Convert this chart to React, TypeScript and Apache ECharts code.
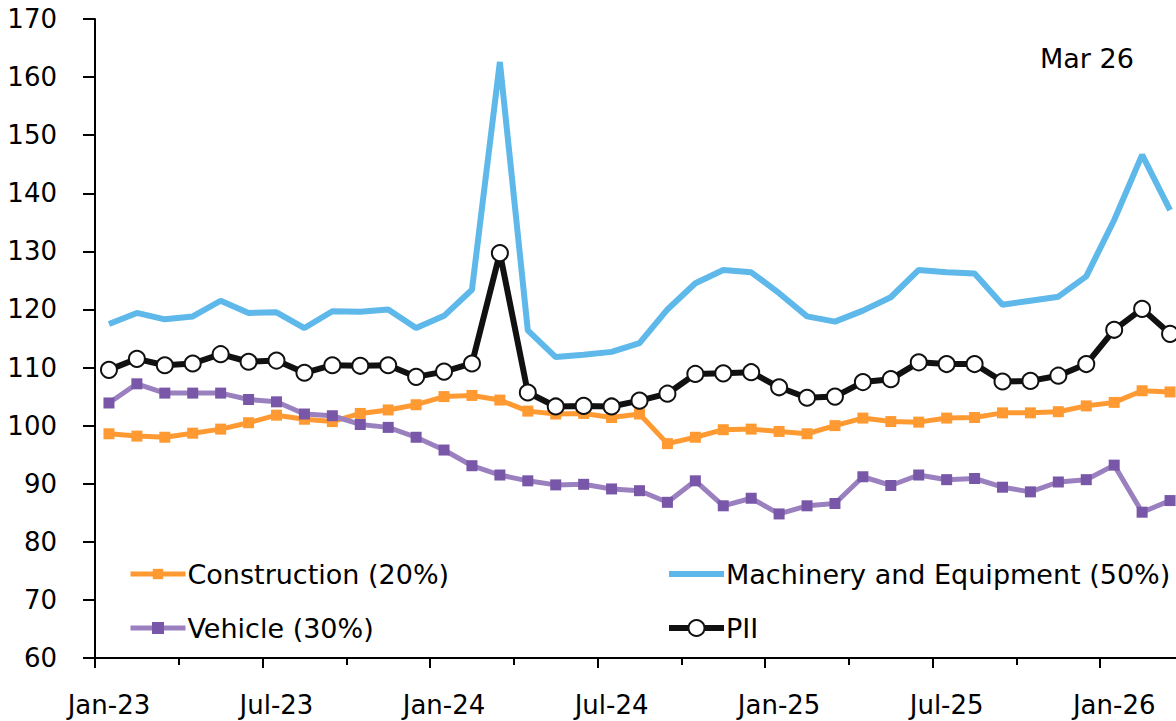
import React, { useEffect, useRef } from "react";
import * as echarts from "echarts";

const months = [
  "Jan-23","Feb-23","Mar-23","Apr-23","May-23","Jun-23","Jul-23","Aug-23","Sep-23","Oct-23","Nov-23","Dec-23",
  "Jan-24","Feb-24","Mar-24","Apr-24","May-24","Jun-24","Jul-24","Aug-24","Sep-24","Oct-24","Nov-24","Dec-24",
  "Jan-25","Feb-25","Mar-25","Apr-25","May-25","Jun-25","Jul-25","Aug-25","Sep-25","Oct-25","Nov-25","Dec-25",
  "Jan-26","Feb-26","Mar-26",
];

const construction = [
  98.6, 98.2, 98.0, 98.7, 99.4, 100.5, 101.8, 101.1, 100.7, 102.1, 102.7, 103.6,
  105.0, 105.2, 104.4, 102.5, 102.0, 102.1, 101.4, 102.0, 96.9, 98.0, 99.3, 99.4,
  99.0, 98.6, 100.0, 101.3, 100.7, 100.6, 101.3, 101.4, 102.2, 102.2, 102.4, 103.4,
  104.0, 106.0, 105.8,
];

const machinery = [
  117.5, 119.4, 118.3, 118.8, 121.5, 119.4, 119.5, 116.8, 119.7, 119.6, 120.0, 116.8,
  118.9, 123.4, 162.6, 116.4, 111.8, 112.2, 112.7, 114.2, 120.0, 124.5, 126.8, 126.4,
  122.8, 118.8, 117.9, 119.8, 122.1, 126.8, 126.4, 126.2, 120.8, 121.5, 122.2, 125.7,
  135.4, 146.6, 137.1,
];

const vehicle = [
  103.9, 107.2, 105.6, 105.6, 105.6, 104.5, 104.1, 102.0, 101.7, 100.2, 99.7, 98.0,
  95.8, 93.1, 91.5, 90.5, 89.8, 89.9, 89.1, 88.8, 86.8, 90.5, 86.2, 87.5,
  84.8, 86.2, 86.6, 91.2, 89.7, 91.5, 90.7, 90.9, 89.4, 88.6, 90.3, 90.7,
  93.2, 85.1, 87.1,
];

const pii = [
  109.6, 111.5, 110.4, 110.7, 112.3, 111.0, 111.2, 109.1, 110.4, 110.3, 110.4, 108.4,
  109.3, 110.7, 129.7, 105.7, 103.3, 103.4, 103.3, 104.3, 105.5, 108.9, 109.0, 109.2,
  106.6, 104.8, 105.0, 107.5, 108.0, 110.9, 110.6, 110.6, 107.6, 107.7, 108.6, 110.6,
  116.5, 120.1, 115.8,
];

const seriesNames = ["Construction (20%)", "Machinery and Equipment (50%)", "Vehicle (30%)", "PII"];
const dateNote = "Mar 26";

const FONT = "DejaVu Sans";

export default function App() {
  const ref = useRef<HTMLDivElement>(null);

  useEffect(() => {
    if (!ref.current) return;
    const chart = echarts.init(ref.current, undefined, { renderer: "svg" });

    const mkLegend = (
      name: string,
      left: number,
      centerY: number,
      itemHeight: number,
      lineWidth: number,
      hideSymbol = false
    ) => ({
      show: true,
      data: [name],
      left,
      top: centerY - 16,
      height: 32,
      orient: "horizontal",
      itemWidth: 55,
      itemHeight,
      itemGap: 0,
      padding: 0,
      lineStyle: { width: lineWidth },
      itemStyle: hideSymbol ? { opacity: 0 } : {},
      textStyle: { fontFamily: FONT, fontSize: 27, color: "#000", padding: [0, 0, 0, -3], lineHeight: 32 },
      selectedMode: false,
    });

    chart.setOption({
      animation: false,
      backgroundColor: "#fff",
      grid: { left: 95, right: 6, top: 19, bottom: 63, containLabel: false },
      legend: [
        mkLegend(seriesNames[0], 128, 574, 13, 5),
        mkLegend(seriesNames[1], 666, 574, 13, 6, true),
        mkLegend(seriesNames[2], 128, 628, 15, 5),
        mkLegend(seriesNames[3], 666, 628, 20, 6),
      ],
      graphic: [
        {
          type: "text",
          left: 1040,
          top: 45,
          style: { text: dateNote, font: `27px "${FONT}"`, fill: "#000" },
        },
      ],
      xAxis: [
        {
          type: "category",
          data: months,
          boundaryGap: true,
          axisLine: { show: true, lineStyle: { color: "#000", width: 2 } },
          axisTick: { show: true, interval: 5, length: 10, lineStyle: { color: "#000", width: 2 } },
          axisLabel: {
            interval: 5,
            margin: 34,
            fontFamily: FONT,
            fontSize: 26,
            color: "#000",
          },
          splitLine: { show: false },
        },
        {
          type: "category",
          data: months,
          boundaryGap: true,
          position: "bottom",
          axisLine: { show: false },
          axisTick: { show: true, interval: 2, length: 7, lineStyle: { color: "#000", width: 2 } },
          axisLabel: { show: false },
          splitLine: { show: false },
        },
      ],
      yAxis: {
        type: "value",
        min: 60,
        max: 170,
        interval: 10,
        axisLine: { show: true, lineStyle: { color: "#000", width: 2 } },
        axisTick: { show: true, length: 12, lineStyle: { color: "#000", width: 2 } },
        axisLabel: { margin: 38, fontFamily: FONT, fontSize: 26, color: "#000" },
        splitLine: { show: false },
      },
      series: [
        {
          name: seriesNames[0],
          type: "line",
          data: construction,
          symbol: "rect",
          symbolSize: 11,
          itemStyle: { color: "#ff9a33" },
          lineStyle: { color: "#ff9a33", width: 5 },
          z: 2,
        },
        {
          name: seriesNames[2],
          type: "line",
          data: vehicle,
          symbol: "rect",
          symbolSize: 11,
          itemStyle: { color: "#7856a8" },
          lineStyle: { color: "#9b80c0", width: 5 },
          z: 3,
        },
        {
          name: seriesNames[1],
          type: "line",
          data: machinery,
          symbol: "none",
          showSymbol: false,
          itemStyle: { color: "#5eb8ea" },
          lineStyle: { color: "#5eb8ea", width: 6 },
          z: 4,
        },
        {
          name: seriesNames[3],
          type: "line",
          data: pii,
          symbol: "circle",
          symbolSize: 16,
          itemStyle: { color: "#fff", borderColor: "#111", borderWidth: 2 },
          lineStyle: { color: "#111", width: 6 },
          z: 5,
        },
      ],
    });

    return () => chart.dispose();
  }, []);

  return (
    <div
      style={{
        position: "fixed",
        left: 0,
        top: 0,
        width: 1176,
        height: 721,
        overflow: "hidden",
        background: "#fff",
      }}
    >
      <div ref={ref} style={{ width: 1190, height: 721 }} />
    </div>
  );
}
